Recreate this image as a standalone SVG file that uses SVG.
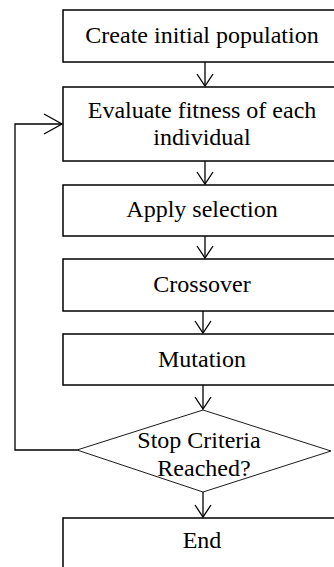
<svg xmlns="http://www.w3.org/2000/svg" width="334" height="567" viewBox="0 0 334 567">
<style>
.box{fill:#fff;stroke:#000;stroke-width:1.5}
.dia{fill:#fff;stroke:#000;stroke-width:0.9}
.t{font-family:"Liberation Serif","Times New Roman",serif;font-size:24px;fill:#000;text-anchor:middle}
.c{fill:none;stroke:#000;stroke-width:1.3}
</style>
<defs>
<marker id="ah" markerWidth="20" markerHeight="20" viewBox="-12 -10 14 20" refX="0" refY="0" orient="auto" markerUnits="userSpaceOnUse">
<path d="M-12,-8 L0,0 L-12,8" fill="none" stroke="#000" stroke-width="1.3"/>
</marker>
<marker id="ah2" markerWidth="24" markerHeight="24" viewBox="-20 -12 22 24" refX="0" refY="0" orient="auto" markerUnits="userSpaceOnUse">
<path d="M-18,-10 L0,0 L-18,10" fill="none" stroke="#000" stroke-width="1.3"/>
</marker>
</defs>
<g id="connectors">
<line class="c" x1="205" y1="62" x2="205" y2="86" marker-end="url(#ah)"/>
<line class="c" x1="205" y1="161" x2="205" y2="184" marker-end="url(#ah)"/>
<line class="c" x1="205" y1="236" x2="205" y2="258" marker-end="url(#ah)"/>
<line class="c" x1="203" y1="311" x2="203" y2="333" marker-end="url(#ah)"/>
<line class="c" x1="203" y1="385" x2="203" y2="409" marker-end="url(#ah)"/>
<line class="c" x1="203" y1="492" x2="203" y2="517" marker-end="url(#ah)"/>
<polyline class="c" points="77,450 15,450 15,124 62,124" marker-end="url(#ah2)"/>
</g>
<g id="n1"><rect class="box" x="63" y="10" width="290" height="52"/><text class="t" x="202" y="43">Create initial population</text></g>
<g id="n2"><rect class="box" x="63" y="87" width="290" height="74"/><text class="t" x="202" y="118">Evaluate fitness of each</text><text class="t" x="202" y="145">individual</text></g>
<g id="n3"><rect class="box" x="63" y="185" width="290" height="51"/><text class="t" x="202" y="217">Apply selection</text></g>
<g id="n4"><rect class="box" x="63" y="259" width="290" height="52"/><text class="t" x="202" y="292">Crossover</text></g>
<g id="n5"><rect class="box" x="63" y="334" width="290" height="51"/><text class="t" x="202" y="367">Mutation</text></g>
<g id="n6"><polygon class="dia" points="203,410 331,451 203,492 77,450"/><text class="t" x="199" y="448">Stop Criteria</text><text class="t" x="204" y="476">Reached?</text></g>
<g id="n7"><rect class="box" x="63" y="518" width="290" height="60"/><text class="t" x="202" y="548">End</text></g>
</svg>
